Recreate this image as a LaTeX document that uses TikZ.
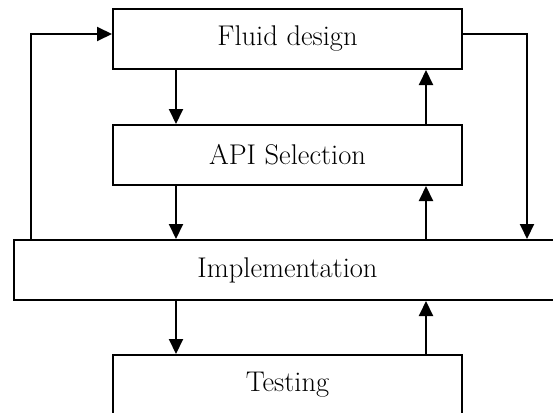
\documentclass[tikz,border=0pt]{standalone}
\usepackage{tikz}
\usetikzlibrary{arrows.meta,positioning,calc}

\begin{document}
\begin{tikzpicture}[x=1pt, y=-1pt,
  every node/.style={font=\fontsize{28.5}{34}\selectfont},
  box/.style={draw, line width=2pt, minimum height=60pt, inner sep=0pt},
  arr/.style={-{Triangle[length=15pt,width=14pt]}, line width=2pt}]
\clip (0,0) rectangle (553,412);
\node[box, minimum width=349pt] (fluid) at (287.5,39) {Fluid design};
\node[box, minimum width=349pt] (api) at (287.5,155) {API Selection};
\node[box, minimum width=547pt] (impl) at (287.5,270) {Implementation};
\node[box, minimum width=349pt] (test) at (287.5,385) {Testing};
\coordinate (a1) at ([xshift=64pt]api.south west);
\coordinate (b1) at ([xshift=-37pt]api.south east);

% downward flow on the left side
\draw[arr] ([xshift=64pt]fluid.south west) -- ([xshift=64pt]api.north west);
\draw[arr] (a1) -- (a1 |- impl.north);
\draw[arr] (impl.south -| a1) -- ([xshift=64pt]test.north west);

% feedback on the right side
\draw[arr] ([xshift=-37pt]api.north east) -- ([xshift=-37pt]fluid.south east);
\draw[arr] (impl.north -| b1) -- (b1);
\draw[arr] ([xshift=-37pt]test.north east) -- (impl.south -| b1);

% outer loops
\draw[arr] ([xshift=18pt]impl.north west) |- ([yshift=5pt]fluid.west);
\draw[arr] ([yshift=5pt]fluid.east) -| ($(fluid.east |- impl.north)+(64,0)$);
\end{tikzpicture}
\end{document}
